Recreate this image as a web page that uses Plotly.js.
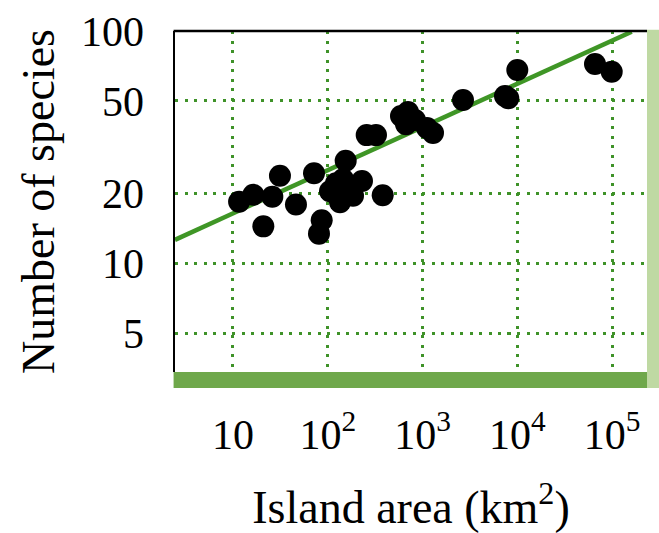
<!DOCTYPE html>
<html>
<head>
<meta charset="utf-8">
<script src="https://cdn.plot.ly/plotly-3.0.1.min.js"></script>
<style>html,body{margin:0;padding:0;background:#fff;}#chart{width:659px;height:533px;}</style>
</head>
<body>
<div id="chart"></div>
<script>
// Island area (km^2) and number of species
const islandArea = [11.6, 16.4, 20.9, 26.0, 31.3, 46.2, 71.6, 86.3, 80.8, 154.6,
  105.6, 122.2, 144.8, 167.6, 134.7, 184.7, 229.8, 155.8,
  380, 257.6, 322.9, 592.8, 702.7, 669.3, 833.1, 1115, 1290,
  2674, 7420, 8040, 10010, 66100, 99200];
const speciesCount = [18.4, 19.7, 14.4, 19.3, 23.8, 17.9, 24.4, 15.3, 13.4, 27.6,
  20.4, 22.1, 23.0, 21.5, 18.3, 19.5, 22.6, 20.7,
  19.6, 35.6, 35.6, 43.0, 44.8, 39.7, 41.4, 38.2, 36.4,
  50.4, 52.5, 51.3, 67.9, 72.1, 66.8];

// Fitted line end points
const fitArea = [2.44, 161300];
const fitSpecies = [12.6, 99.3];

// Tick labels
const xTickVals = [10, 100, 1000, 10000, 100000];
const xTickText = ["10", "10<sup>2</sup>", "10<sup>3</sup>", "10<sup>4</sup>", "10<sup>5</sup>"];
const yTickVals = [5, 10, 20, 50, 100];
const yTickText = ["5", "10", "20", "50", "100"];

const serif = "Liberation Serif, Times New Roman, serif";
const gridGreen = "#3f9229";

const traces = [
  {
    x: fitArea, y: fitSpecies, mode: "lines", type: "scatter",
    line: {color: "#3f9626", width: 4.5}, hoverinfo: "skip", showlegend: false
  },
  {
    x: islandArea, y: speciesCount, mode: "markers", type: "scatter",
    marker: {color: "#000", size: 22, line: {width: 0}}, showlegend: false
  }
];

const layout = {
  width: 659, height: 533,
  margin: {l: 175, r: 12, t: 31, b: 161, pad: 0},
  paper_bgcolor: "#fff", plot_bgcolor: "#fff",
  showlegend: false,
  font: {family: serif, color: "#000"},
  xaxis: {
    type: "log", range: [0.388, 5.369],
    tickvals: xTickVals, ticktext: xTickText,
    ticks: "", ticklabelstandoff: 34,
    tickfont: {family: serif, size: 42, color: "#000"},
    showgrid: true, gridcolor: gridGreen, gridwidth: 3, griddash: "3px,6.5px",
    zeroline: false, showline: false,
    title: {text: "Island area (km<sup>2</sup>)", font: {family: serif, size: 46, color: "#000"}, standoff: 40}
  },
  yaxis: {
    type: "log", range: [0.531, 2.0],
    tickvals: yTickVals, ticktext: yTickText,
    ticks: "", ticklabelstandoff: 20,
    tickfont: {family: serif, size: 42, color: "#000"},
    showgrid: true, gridcolor: gridGreen, gridwidth: 3, griddash: "3px,6.5px",
    zeroline: false, showline: true, linecolor: "#000", linewidth: 2.5,
    title: {text: "Number of species", font: {family: serif, size: 46, color: "#000"}, standoff: 12}
  },
  shapes: [
    {type: "rect", xref: "paper", yref: "paper", x0: -0.003, x1: 1, y0: -0.047, y1: 0,
     fillcolor: "#6fa84b", line: {width: 0}, layer: "above"},
    {type: "rect", xref: "paper", yref: "paper", x0: 1, x1: 1.03, y0: -0.047, y1: 1.004,
     fillcolor: "#bfd9a3", line: {width: 0}, layer: "above"},
    {type: "line", xref: "paper", yref: "paper", x0: -0.003, x1: 1, y0: 1, y1: 1,
     line: {color: "#000", width: 2.5}, layer: "above"}
  ]
};

Plotly.newPlot("chart", traces, layout, {displayModeBar: false, staticPlot: true});
</script>
</body>
</html>
